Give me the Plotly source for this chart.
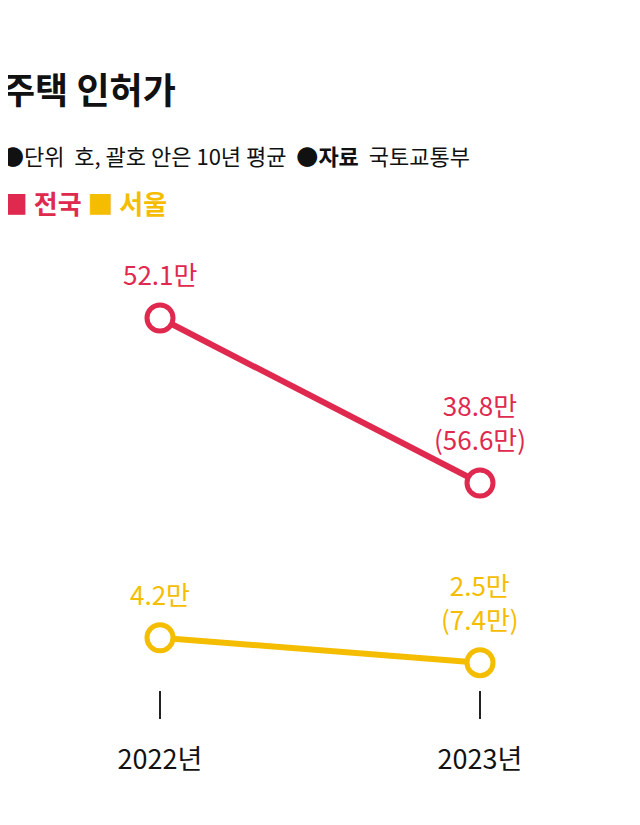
import plotly.graph_objects as go

# data
years = ["2022년", "2023년"]
x_pos = [0, 1]
national = [52.1, 38.8]
seoul = [4.2, 2.5]
national_labels = ["52.1만", "38.8만<br>(56.6만)"]
seoul_labels = ["4.2만", "2.5만<br>(7.4만)"]

RED = "#E0294E"
YEL = "#F5BD00"
FONT = "Noto Sans CJK KR"
SH = 8 / 825  # page offset compensation

fig = go.Figure()
fig.add_trace(go.Scatter(
    x=x_pos, y=national, mode="lines+markers", yaxis="y", cliponaxis=False,
    line=dict(color=RED, width=6),
    marker=dict(size=26, color="white", line=dict(color=RED, width=5)),
    hoverinfo="skip"))
fig.add_trace(go.Scatter(
    x=x_pos, y=seoul, mode="lines+markers", yaxis="y2", cliponaxis=False,
    line=dict(color=YEL, width=6),
    marker=dict(size=26, color="white", line=dict(color=YEL, width=5)),
    hoverinfo="skip"))

anns = []
for xv, yv, t in zip(x_pos, national, national_labels):
    anns.append(dict(x=xv, y=yv, xref="x", yref="y", text=t, showarrow=False,
                     yanchor="bottom", yshift=24, font=dict(size=26, color=RED, family=FONT)))
for xv, yv, t in zip(x_pos, seoul, seoul_labels):
    anns.append(dict(x=xv, y=yv, xref="x", yref="y2", text=t, showarrow=False,
                     yanchor="bottom", yshift=24, font=dict(size=26, color=YEL, family=FONT)))

anns += [
    dict(x=-0.012, y=80, xref="paper", yref="paper", text="<b>주택 인허가</b>", showarrow=False,
         xanchor="left", yanchor="middle", font=dict(size=36, color="#111", family=FONT)),
    dict(x=-0.012, y=147, xref="paper", yref="paper",
         text="●단위  호, 괄호 안은 10년 평균  ●<b>자료</b>  국토교통부", showarrow=False,
         xanchor="left", yanchor="middle", font=dict(size=22, color="#111", family=FONT)),
    dict(x=-0.012, y=195, xref="paper", yref="paper",
         text="<span style='color:%s'>■ <b>전국</b></span> <span style='color:%s'>■ <b>서울</b></span>" % (RED, YEL),
         showarrow=False, xanchor="left", yanchor="middle", font=dict(size=26, family=FONT)),
]
for a in anns:
    if a["yref"] == "paper":
        a["y"] = 1 - a["y"] / 825

fig.update_layout(
    width=640, height=825, margin=dict(l=0, r=0, t=0, b=0),
    paper_bgcolor="white", plot_bgcolor="white", showlegend=False,
    font=dict(family=FONT),
    xaxis=dict(range=[-0.475, 1.525], tickvals=x_pos, ticktext=years, anchor="y2",
               showgrid=False, zeroline=False, showline=False,
               ticks="outside", ticklen=28, tickwidth=1.5, tickcolor="#222",
               ticklabelstandoff=18, tickfont=dict(size=27, color="#111", family=FONT)),
    yaxis=dict(domain=[0.4 + SH, 0.8 + SH], range=[37.83, 64.44], visible=False),
    yaxis2=dict(domain=[0.164 + SH, 0.36 + SH], range=[0.66, 11.68], visible=False),
    annotations=anns,
)
fig.write_html("out.html")
